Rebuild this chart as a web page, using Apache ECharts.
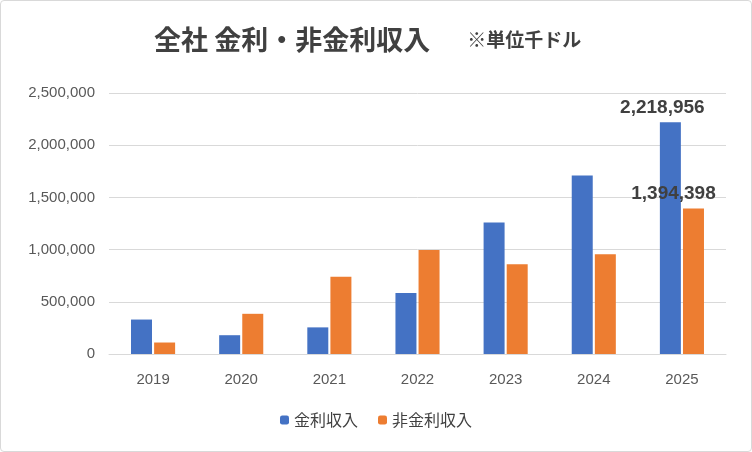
<!DOCTYPE html>
<html>
<head>
<meta charset="utf-8">
<script src="https://cdn.jsdelivr.net/npm/echarts@6/dist/echarts.min.js"></script>
<style>
html, body { margin: 0; padding: 0; background: #fff; }
#chart { width: 750px; height: 450px; border: 1px solid #d9d9d9; border-radius: 4px; }
</style>
</head>
<body>
<div id="chart"></div>
<script>
var years = ['2019', '2020', '2021', '2022', '2023', '2024', '2025'];
var interestIncome = [330000, 180000, 255000, 585000, 1260000, 1710000, 2218956];
var nonInterestIncome = [110000, 385000, 740000, 995000, 860000, 955000, 1394398];

function lastLabel(arr, dx) {
    return arr.map(function (v, i) {
        if (i !== arr.length - 1) return v;
        return {
            value: v,
            label: {
                show: true, position: 'top', offset: [dx, 0],
                fontSize: 19, fontWeight: 'bold', color: '#404040',
                formatter: function (p) { return p.value.toLocaleString('en-US'); }
            }
        };
    });
}

var chart = echarts.init(document.getElementById('chart'));
chart.setOption({
    title: {
        text: '全社 金利・非金利収入　{s|※単位千ドル}',
        left: 148, top: 20,
        textStyle: {
            fontFamily: 'Noto Sans CJK JP', fontSize: 27, fontWeight: 'bold', color: '#404040',
            rich: { s: { fontFamily: 'Noto Sans CJK JP', fontSize: 19, fontWeight: 'bold', color: '#404040', padding: [0, 0, 0, 10] } }
        }
    },
    legend: {
        bottom: 18, itemWidth: 9, itemHeight: 9, itemGap: 20,
        textStyle: { fontFamily: 'Noto Sans CJK JP', fontSize: 16, color: '#404040' }
    },
    grid: { left: 108, right: 25, top: 92, bottom: 97 },
    xAxis: {
        type: 'category', data: years,
        axisLine: { lineStyle: { color: '#d9d9d9' } },
        axisTick: { show: false },
        axisLabel: { color: '#595959', fontSize: 15, margin: 18, fontFamily: 'Liberation Sans' }
    },
    yAxis: {
        type: 'value', min: 0, max: 2500000, interval: 500000,
        axisLabel: {
            color: '#595959', fontSize: 15, margin: 14, fontFamily: 'Liberation Sans',
            formatter: function (v) { return v.toLocaleString('en-US'); }
        },
        splitLine: { lineStyle: { color: '#d9d9d9' } }
    },
    series: [
        { name: '金利収入', type: 'bar', barWidth: 21, barGap: '10%', itemStyle: { color: '#4472c4' }, data: lastLabel(interestIncome, -8) },
        { name: '非金利収入', type: 'bar', barWidth: 21, itemStyle: { color: '#ed7d31' }, data: lastLabel(nonInterestIncome, -20) }
    ]
});
</script>
</body>
</html>
